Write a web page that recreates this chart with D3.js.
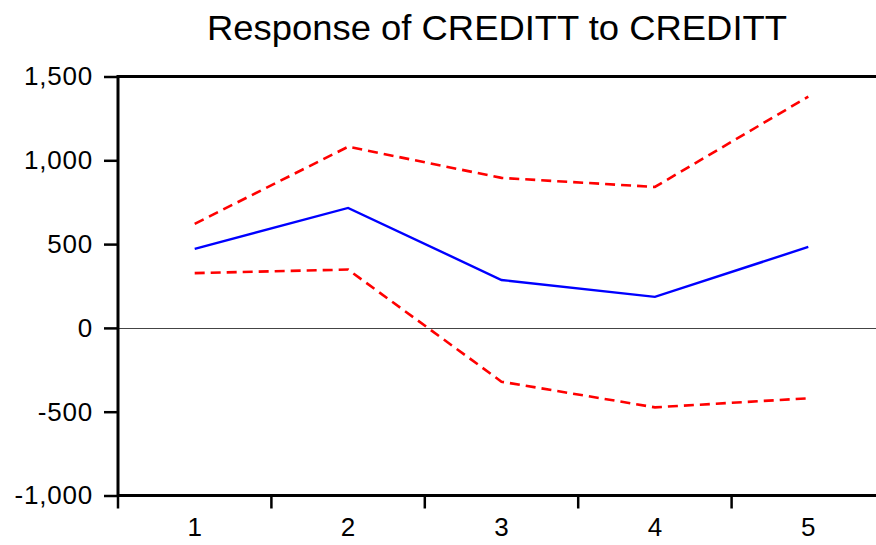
<!DOCTYPE html>
<html>
<head>
<meta charset="utf-8">
<script src="https://cdn.jsdelivr.net/npm/d3@7"></script>
<style>
  html, body { margin: 0; padding: 0; background: #fff; }
  svg { display: block; }
  text { font-family: "Liberation Sans", Arial, sans-serif; fill: #000; }
</style>
</head>
<body>
<svg id="chart" width="876" height="545"></svg>
<script>
// Impulse response of CREDITT to a CREDITT shock, with +/- 2 S.E. bands
const periods = [1, 2, 3, 4, 5];
const response = [472, 716, 286, 185, 483];
const upperBand = [621, 1081, 895, 841, 1380];
const lowerBand = [327, 348, -321, -474, -420];
const yTicks = [-1000, -500, 0, 500, 1000, 1500];

const svg = d3.select("#chart");
const plotLeft = 118, plotTop = 76.5, plotBottom = 495.5, plotRight = 885;

const x = d3.scaleBand().domain(periods).range([plotLeft, plotRight]).padding(0);
const y = d3.scaleLinear().domain([-1000, 1500]).range([plotBottom, plotTop]);
const cx = d => x(d) + x.bandwidth() / 2;
const fmt = d => d3.format(",")(d).replace("\u2212", "-");

// zero reference line
svg.append("line")
  .attr("x1", plotLeft).attr("x2", plotRight)
  .attr("y1", Math.round(y(0)) + 0.5).attr("y2", Math.round(y(0)) + 0.5)
  .attr("stroke", "#444").attr("stroke-width", 1);

// series
const line = d3.line().x((d, i) => cx(periods[i])).y(d => y(d));
svg.append("path").datum(upperBand).attr("d", line)
  .attr("fill", "none").attr("stroke", "#ff0000").attr("stroke-width", 2.6)
  .attr("stroke-dasharray", "10,6");
svg.append("path").datum(lowerBand).attr("d", line)
  .attr("fill", "none").attr("stroke", "#ff0000").attr("stroke-width", 2.6)
  .attr("stroke-dasharray", "10,6");
svg.append("path").datum(response).attr("d", line)
  .attr("fill", "none").attr("stroke", "#0000ff").attr("stroke-width", 2.4);

// frame: top, left, bottom
svg.append("path")
  .attr("d", `M${plotRight},${plotTop}H${plotLeft}V${plotBottom}H${plotRight}`)
  .attr("fill", "none").attr("stroke", "#000").attr("stroke-width", 3);

// y axis
const yAxis = svg.append("g").attr("transform", `translate(${plotLeft - 1},0)`)
  .call(d3.axisLeft(y).tickValues(yTicks).tickSize(13).tickPadding(11)
    .tickFormat(fmt));
yAxis.attr("font-size", null).attr("font-family", null);
yAxis.select(".domain").remove();
yAxis.selectAll(".tick line").attr("stroke", "#000").attr("stroke-width", 2.5);
yAxis.selectAll(".tick text").style("font-size", "26px")
  .style("letter-spacing", "0.8px")
  .style("font-family", "'Liberation Sans', Arial, sans-serif");

// x axis: labels at period centres, ticks on period boundaries
const xAxis = svg.append("g").attr("transform", `translate(0,${plotBottom})`)
  .call(d3.axisBottom(x).tickSize(0).tickPadding(22));
xAxis.attr("font-size", null).attr("font-family", null);
xAxis.select(".domain").remove();
xAxis.selectAll(".tick text").style("font-size", "26px")
  .style("font-family", "'Liberation Sans', Arial, sans-serif");
svg.append("g").selectAll("line").data(periods).join("line")
  .attr("x1", d => x(d)).attr("x2", d => x(d))
  .attr("y1", plotBottom).attr("y2", plotBottom + 13)
  .attr("stroke", "#000").attr("stroke-width", 2.5);

// title
svg.append("text")
  .attr("x", 497).attr("y", 40)
  .attr("text-anchor", "middle")
  .style("font-size", "35px")
  .attr("textLength", 580).attr("lengthAdjust", "spacingAndGlyphs")
  .text("Response of CREDITT to CREDITT");
</script>
</body>
</html>
